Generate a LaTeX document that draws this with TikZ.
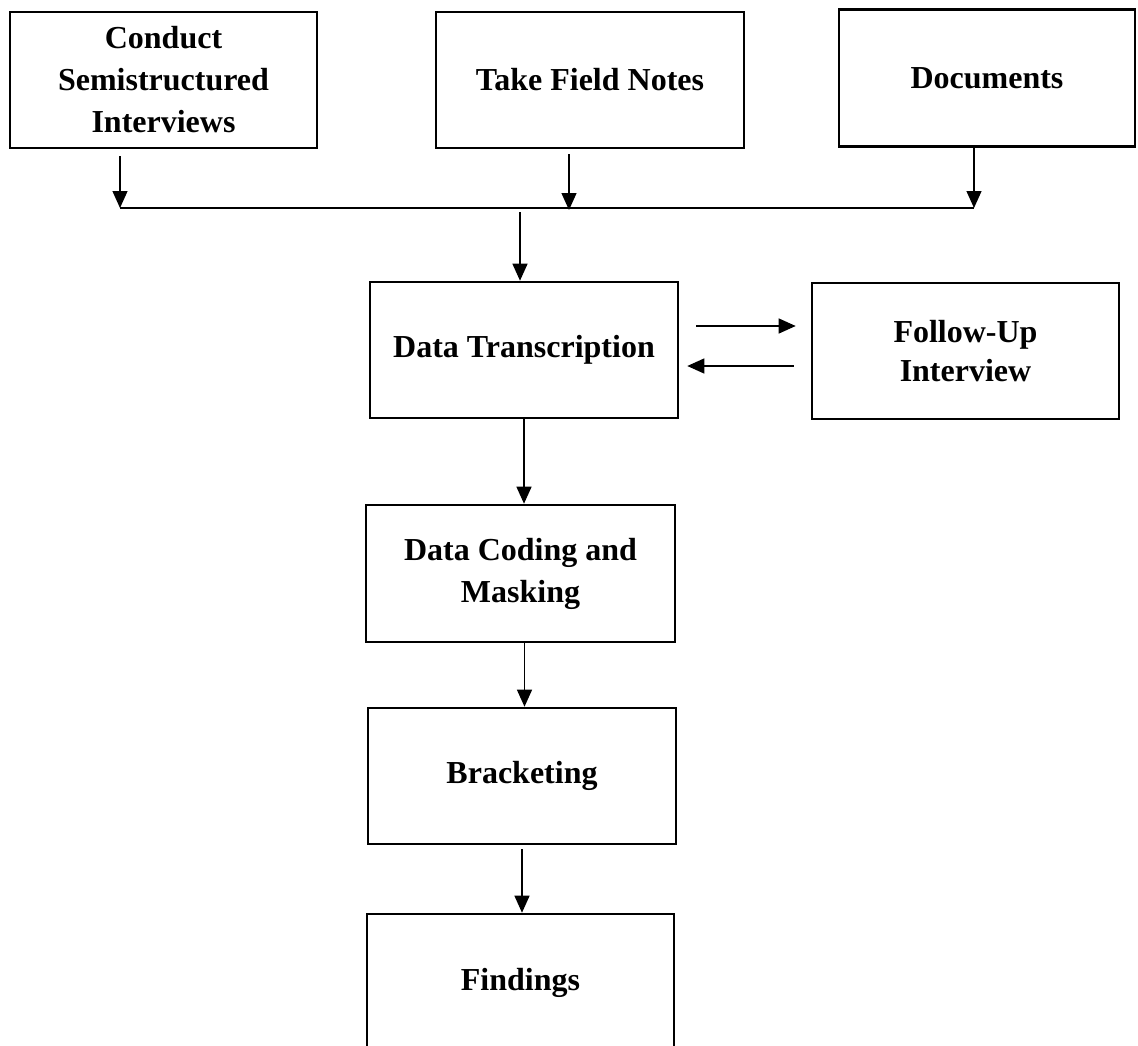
\documentclass[tikz,border=0pt]{standalone}
\usepackage{fontspec}
\setmainfont{Liberation Serif}
\usetikzlibrary{arrows.meta}
\begin{document}
\begin{tikzpicture}[x=1pt, y=-1pt, >={Triangle[length=17pt,width=15pt]},
	stepbox/.style={draw, line width=2.6pt, align=center, inner sep=0pt,
		font=\bfseries\fontsize{32}{42}\selectfont},
	link/.style={->, line width=1.3pt}]
	\useasboundingbox (0,0) rectangle (1138,1046);
	% sources
	\node[stepbox, minimum width=307pt, minimum height=136pt] (conduct) at (163.5,80) {Conduct\\Semistructured\\Interviews};
	\node[stepbox, minimum width=308pt, minimum height=136pt] (notes) at (590,80) {Take Field Notes};
	\node[stepbox, minimum width=296pt, minimum height=137pt] (docs) at (987,78) {Documents};
	\coordinate (busL) at (120,208);
	\coordinate (busM) at (569,210);
	\coordinate (busR) at (974,208);
	\coordinate (busT) at (520,212);
	\draw[link, shorten <=7pt] (conduct.south -| busL) -- (busL);
	\draw[link, shorten <=5pt] (notes.south -| busM) -- (busM);
	\draw[link] (docs.south -| busR) -- (busR);
	\draw[line width=1.3pt] (busL) -- (busR);
	% main chain
	\node[stepbox, minimum width=308pt, minimum height=136pt] (transcr) at (524,350) {Data Transcription};
	\node[stepbox, minimum width=307pt, minimum height=136pt, font=\bfseries\fontsize{32}{39}\selectfont] (followup) at (965.5,351) {Follow-Up\\Interview};
	\draw[link] (busT) -- (busT |- transcr.north);
	\draw[link, shorten <=17pt, shorten >=15pt] ([yshift=24pt]transcr.east) -- ([yshift=24pt]transcr.east -| followup.west);
	\draw[link, shorten <=17pt, shorten >=8pt] ([yshift=-16pt]transcr.east -| followup.west) -- ([yshift=-16pt]transcr.east);
	\node[stepbox, minimum width=309pt, minimum height=137pt] (coding) at (520.5,573.5) {Data Coding and\\Masking};
	\node[stepbox, minimum width=308pt, minimum height=136pt] (bracket) at (522,776) {Bracketing};
	\node[stepbox, minimum width=307pt, minimum height=138pt] (findings) at (520.5,983) {Findings};
	\draw[link] (transcr.south) -- (coding.north -| transcr.south);
	\draw[link] ([xshift=4pt]coding.south) -- ([xshift=4pt]coding.south |- bracket.north);
	\draw[link, shorten <=4pt] (bracket.south) -- (bracket.south |- findings.north);
\end{tikzpicture}
\end{document}
